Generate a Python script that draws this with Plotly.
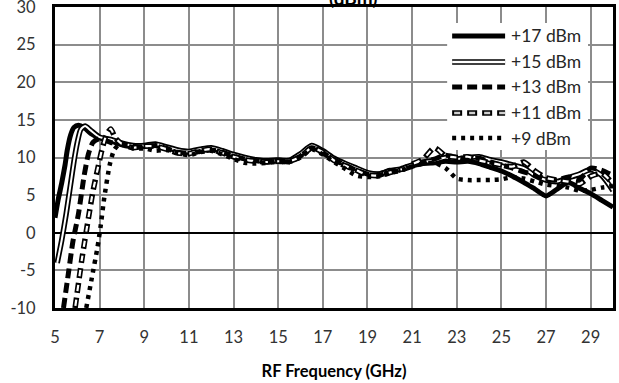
import plotly.graph_objects as go

# frequency (GHz) and output power (dBm) per LO drive level
f17 = [5.0, 5.15, 5.3, 5.45, 5.55, 5.7, 5.85, 6.05, 6.3, 6.6, 7.0,
       7.5, 8.0, 8.5, 9.0, 9.5, 10.0, 10.5, 11.0, 11.5, 12.0, 12.5, 13.0, 13.5, 14.0, 14.5,
       15.0, 15.5, 16.0, 16.5, 17.0, 17.5, 18.0, 18.5, 19.0, 19.5, 20.0, 20.5, 21.0, 21.5,
       22.0, 22.5, 23.0, 23.5, 24.0, 24.5, 25.0, 25.5, 26.0, 26.5, 27.0, 27.5, 28.0, 28.5,
       29.0, 29.5, 30.0]
p17 = [2.0, 4.5, 6.6, 9.0, 11.0, 13.0, 14.0, 14.3, 14.0, 13.2, 12.6,
       12.2, 11.7, 11.4, 11.5, 11.6, 11.3, 10.9, 10.7, 11.0, 11.2, 10.8, 10.3, 9.9, 9.6, 9.6,
       9.7, 9.5, 10.3, 11.5, 10.8, 9.8, 9.1, 8.5, 7.9, 7.8, 8.3, 8.4, 8.9, 9.2,
       9.3, 9.5, 9.4, 9.5, 9.2, 8.7, 8.2, 7.5, 6.7, 5.8, 4.9, 5.8, 6.7, 5.9,
       5.2, 4.3, 3.4]

f15 = [5.1, 5.3, 5.5, 5.7, 5.85, 6.0, 6.15, 6.35, 6.6, 7.0,
       7.5, 8.0, 8.5, 9.0, 9.5, 10.0, 10.5, 11.0, 11.5, 12.0, 12.5, 13.0, 13.5, 14.0, 14.5,
       15.0, 15.5, 16.0, 16.5, 17.0, 17.5, 18.0, 18.5, 19.0, 19.5, 20.0, 20.5, 21.0, 21.5,
       22.0, 22.5, 23.0, 23.5, 24.0, 24.5, 25.0, 25.5, 26.0, 26.5, 27.0, 27.5, 28.0, 28.5,
       29.0, 29.5, 30.0]
p15 = [-4.0, -1.0, 2.5, 6.5, 9.5, 12.0, 13.7, 14.2, 13.6, 12.7,
       12.4, 11.9, 11.6, 11.6, 11.8, 11.4, 11.0, 10.8, 11.1, 11.3, 10.9, 10.4, 10.0, 9.7, 9.5,
       9.6, 9.6, 10.5, 11.6, 10.9, 9.9, 9.2, 8.6, 8.0, 7.8, 8.2, 8.5, 9.0, 9.4,
       9.6, 10.0, 9.8, 10.0, 10.1, 9.7, 9.4, 9.0, 8.6, 7.6, 7.0, 6.8, 7.3, 7.8,
       8.4, 7.6, 5.6]

f13 = [5.38, 5.6, 5.8, 6.05, 6.3, 6.5, 6.7, 7.0,
       7.5, 8.0, 8.5, 9.0, 9.5, 10.0, 10.5, 11.0, 11.5, 12.0, 12.5, 13.0, 13.5, 14.0, 14.5,
       15.0, 15.5, 16.0, 16.5, 17.0, 17.5, 18.0, 18.5, 19.0, 19.5, 20.0, 20.5, 21.0, 21.5,
       22.0, 22.5, 23.0, 23.5, 24.0, 24.5, 25.0, 25.5, 26.0, 26.5, 27.0, 27.5, 28.0, 28.5,
       29.0, 29.5, 30.0]
p13 = [-10.0, -5.4, -1.2, 2.5, 7.5, 10.5, 12.0, 12.5,
       12.0, 11.8, 11.5, 11.4, 11.6, 11.2, 10.7, 10.6, 10.8, 11.0, 10.7, 10.2, 9.8, 9.6, 9.4,
       9.5, 9.4, 10.2, 11.3, 10.6, 9.7, 9.0, 8.3, 7.8, 7.6, 8.1, 8.3, 8.8, 9.3,
       9.8, 10.3, 10.0, 9.8, 9.9, 9.4, 9.0, 8.6, 8.1, 7.7, 7.1, 7.0, 7.4, 7.1,
       8.6, 8.3, 7.6]

f11 = [5.9, 6.2, 6.5, 6.7, 6.95, 7.1, 7.3, 7.5, 7.7,
       8.0, 8.5, 9.0, 9.5, 10.0, 10.5, 11.0, 11.5, 12.0, 12.5, 13.0, 13.5, 14.0, 14.5,
       15.0, 15.5, 16.0, 16.5, 17.0, 17.5, 18.0, 18.5, 19.0, 19.5, 20.0, 20.5, 21.0, 21.5,
       22.0, 22.5, 23.0, 23.5, 24.0, 24.5, 25.0, 25.5, 26.0, 26.5, 27.0, 27.5, 28.0, 28.5,
       29.0, 29.5, 30.0]
p11 = [-10.0, -3.6, 2.0, 5.5, 9.0, 11.0, 13.0, 13.8, 12.6,
       11.8, 11.3, 11.5, 11.5, 11.1, 10.6, 10.5, 10.9, 11.1, 10.6, 10.1, 9.7, 9.5, 9.4,
       9.5, 9.5, 10.1, 11.3, 10.7, 9.6, 8.9, 8.3, 7.7, 7.6, 8.0, 8.4, 9.1, 9.8,
       11.3, 10.2, 10.0, 10.1, 9.6, 9.3, 9.0, 8.8, 9.4, 8.2, 7.3, 7.0, 6.8, 6.5,
       7.5, 7.9, 6.5]

f9 = [6.4, 6.65, 6.9, 7.05, 7.2, 7.45, 7.65, 7.9,
      8.5, 9.0, 9.5, 10.0, 10.5, 11.0, 11.5, 12.0, 12.5, 13.0, 13.5, 14.0, 14.5,
      15.0, 15.5, 16.0, 16.5, 17.0, 17.5, 18.0, 18.5, 19.0, 19.5, 20.0, 20.5, 21.0, 21.5,
      22.0, 22.5, 23.0, 23.5, 24.0, 24.5, 25.0, 25.5, 26.0, 26.5, 27.0, 27.5, 28.0, 28.5,
      29.0, 29.5, 30.0]
p9 = [-10.0, -6.0, -2.0, 1.0, 4.5, 9.0, 11.0, 11.8,
      11.2, 11.2, 10.9, 11.0, 10.6, 10.3, 10.7, 10.9, 10.4, 9.8, 9.3, 9.2, 9.3,
      9.4, 9.4, 10.0, 11.1, 10.4, 9.4, 8.5, 7.6, 7.4, 7.5, 7.9, 8.3, 8.8, 9.2,
      9.3, 8.6, 7.2, 7.0, 7.0, 7.0, 7.1, 7.4, 7.2, 6.8, 6.4, 6.2, 6.0, 5.6,
      5.7, 6.0, 6.2]

labels = ["+17 dBm", "+15 dBm", "+13 dBm", "+11 dBm", "+9 dBm"]
x_ticks = [5, 7, 9, 11, 13, 15, 17, 19, 21, 23, 25, 27, 29]
y_ticks = [-10, -5, 0, 5, 10, 15, 20, 25, 30]
y_ticktext = ["-10", "-5", "0", "5", "10", "15", "20", "25", "30"]

FONT = "Lato"

# style per series: (outer width, outer dash, inner width or None, inner dash)
styles = [
    (5, "solid", None, None),
    (5.5, "solid", 2, "solid"),
    (5, "10px,5px", None, None),
    (5.5, "10px,5px", 2.2, "0px,2px,6px,7px"),
    (4.5, "4px,5px", None, None),
]
series = [(f17, p17), (f15, p15), (f13, p13), (f11, p11), (f9, p9)]

fig = go.Figure()
for (fx, py), (w, d, iw, idash), name in zip(series, styles, labels):
    fig.add_trace(go.Scatter(x=fx, y=py, mode="lines", name=name, showlegend=False,
                             line=dict(color="black", width=w, dash=d,
                                       shape="spline", smoothing=0.6)))
    if iw:
        fig.add_trace(go.Scatter(x=fx, y=py, mode="lines", showlegend=False,
                                 hoverinfo="skip",
                                 line=dict(color="white", width=iw, dash=idash,
                                           shape="spline", smoothing=0.6)))

# plot area in pixels, for placing the hand drawn legend
L, R, T, B = 54.5, 613.0, 7.0, 308.0


def px(x):
    return (x - L) / (R - L)


def py_(y):
    return (B - y) / (B - T)


shapes = [dict(type="rect", xref="paper", yref="paper",
               x0=px(447), x1=px(588), y0=py_(150), y1=py_(23),
               fillcolor="white", line=dict(width=0), layer="above")]
annotations = []
leg_y = [36, 62, 87, 113, 138]
for yy, (w, d, iw, idash), name in zip(leg_y, styles, labels):
    shapes.append(dict(type="line", xref="paper", yref="paper",
                       x0=px(452), x1=px(505), y0=py_(yy), y1=py_(yy),
                       line=dict(color="black", width=w, dash=d), layer="above"))
    if iw:
        shapes.append(dict(type="line", xref="paper", yref="paper",
                           x0=px(452), x1=px(505), y0=py_(yy), y1=py_(yy),
                           line=dict(color="#d0d0d0" if idash != "solid" else "white",
                                     width=iw + 0.3, dash=idash), layer="above"))
    annotations.append(dict(text=name, xref="paper", yref="paper", x=px(509), y=py_(yy),
                            xanchor="left", yanchor="middle", showarrow=False,
                            font=dict(family=FONT, size=17.5, color="#262626")))

annotations.append(dict(text="<b>(dBm)</b>", xref="paper", yref="paper", x=px(353), y=1,
                        xanchor="center", yanchor="bottom", yshift=-4, showarrow=False,
                        font=dict(family=FONT, size=19, color="black")))

fig.update_layout(
    width=619, height=383,
    margin=dict(l=54.5, r=6, t=7, b=75, autoexpand=False),
    paper_bgcolor="white", plot_bgcolor="white",
    font=dict(family=FONT, size=16.5, color="#333333"),
    shapes=shapes, annotations=annotations,
)
fig.update_xaxes(range=[5, 30], tickvals=x_ticks, showgrid=True, gridcolor="#8c8c8c",
                 gridwidth=2, showline=True, linecolor="black", linewidth=3, mirror=True,
                 ticks="", zeroline=False, ticklabelstandoff=12, automargin=False,
                 ticklabeloverflow="allow",
                 title=dict(text="<b>RF Frequency (GHz)</b>", standoff=20,
                            font=dict(family=FONT, size=16.5, color="black")))
fig.update_yaxes(range=[-10, 30], tickvals=y_ticks, ticktext=y_ticktext, showgrid=True,
                 gridcolor="#8c8c8c", gridwidth=2, showline=True, linecolor="black",
                 linewidth=3, mirror=True, ticks="", zeroline=True, zerolinecolor="black",
                 zerolinewidth=1.5, ticklabelstandoff=13, automargin=False,
                 ticklabeloverflow="allow")

fig.write_html("out.html", config={"displayModeBar": False},
               post_script="document.body.style.margin='0px';")
